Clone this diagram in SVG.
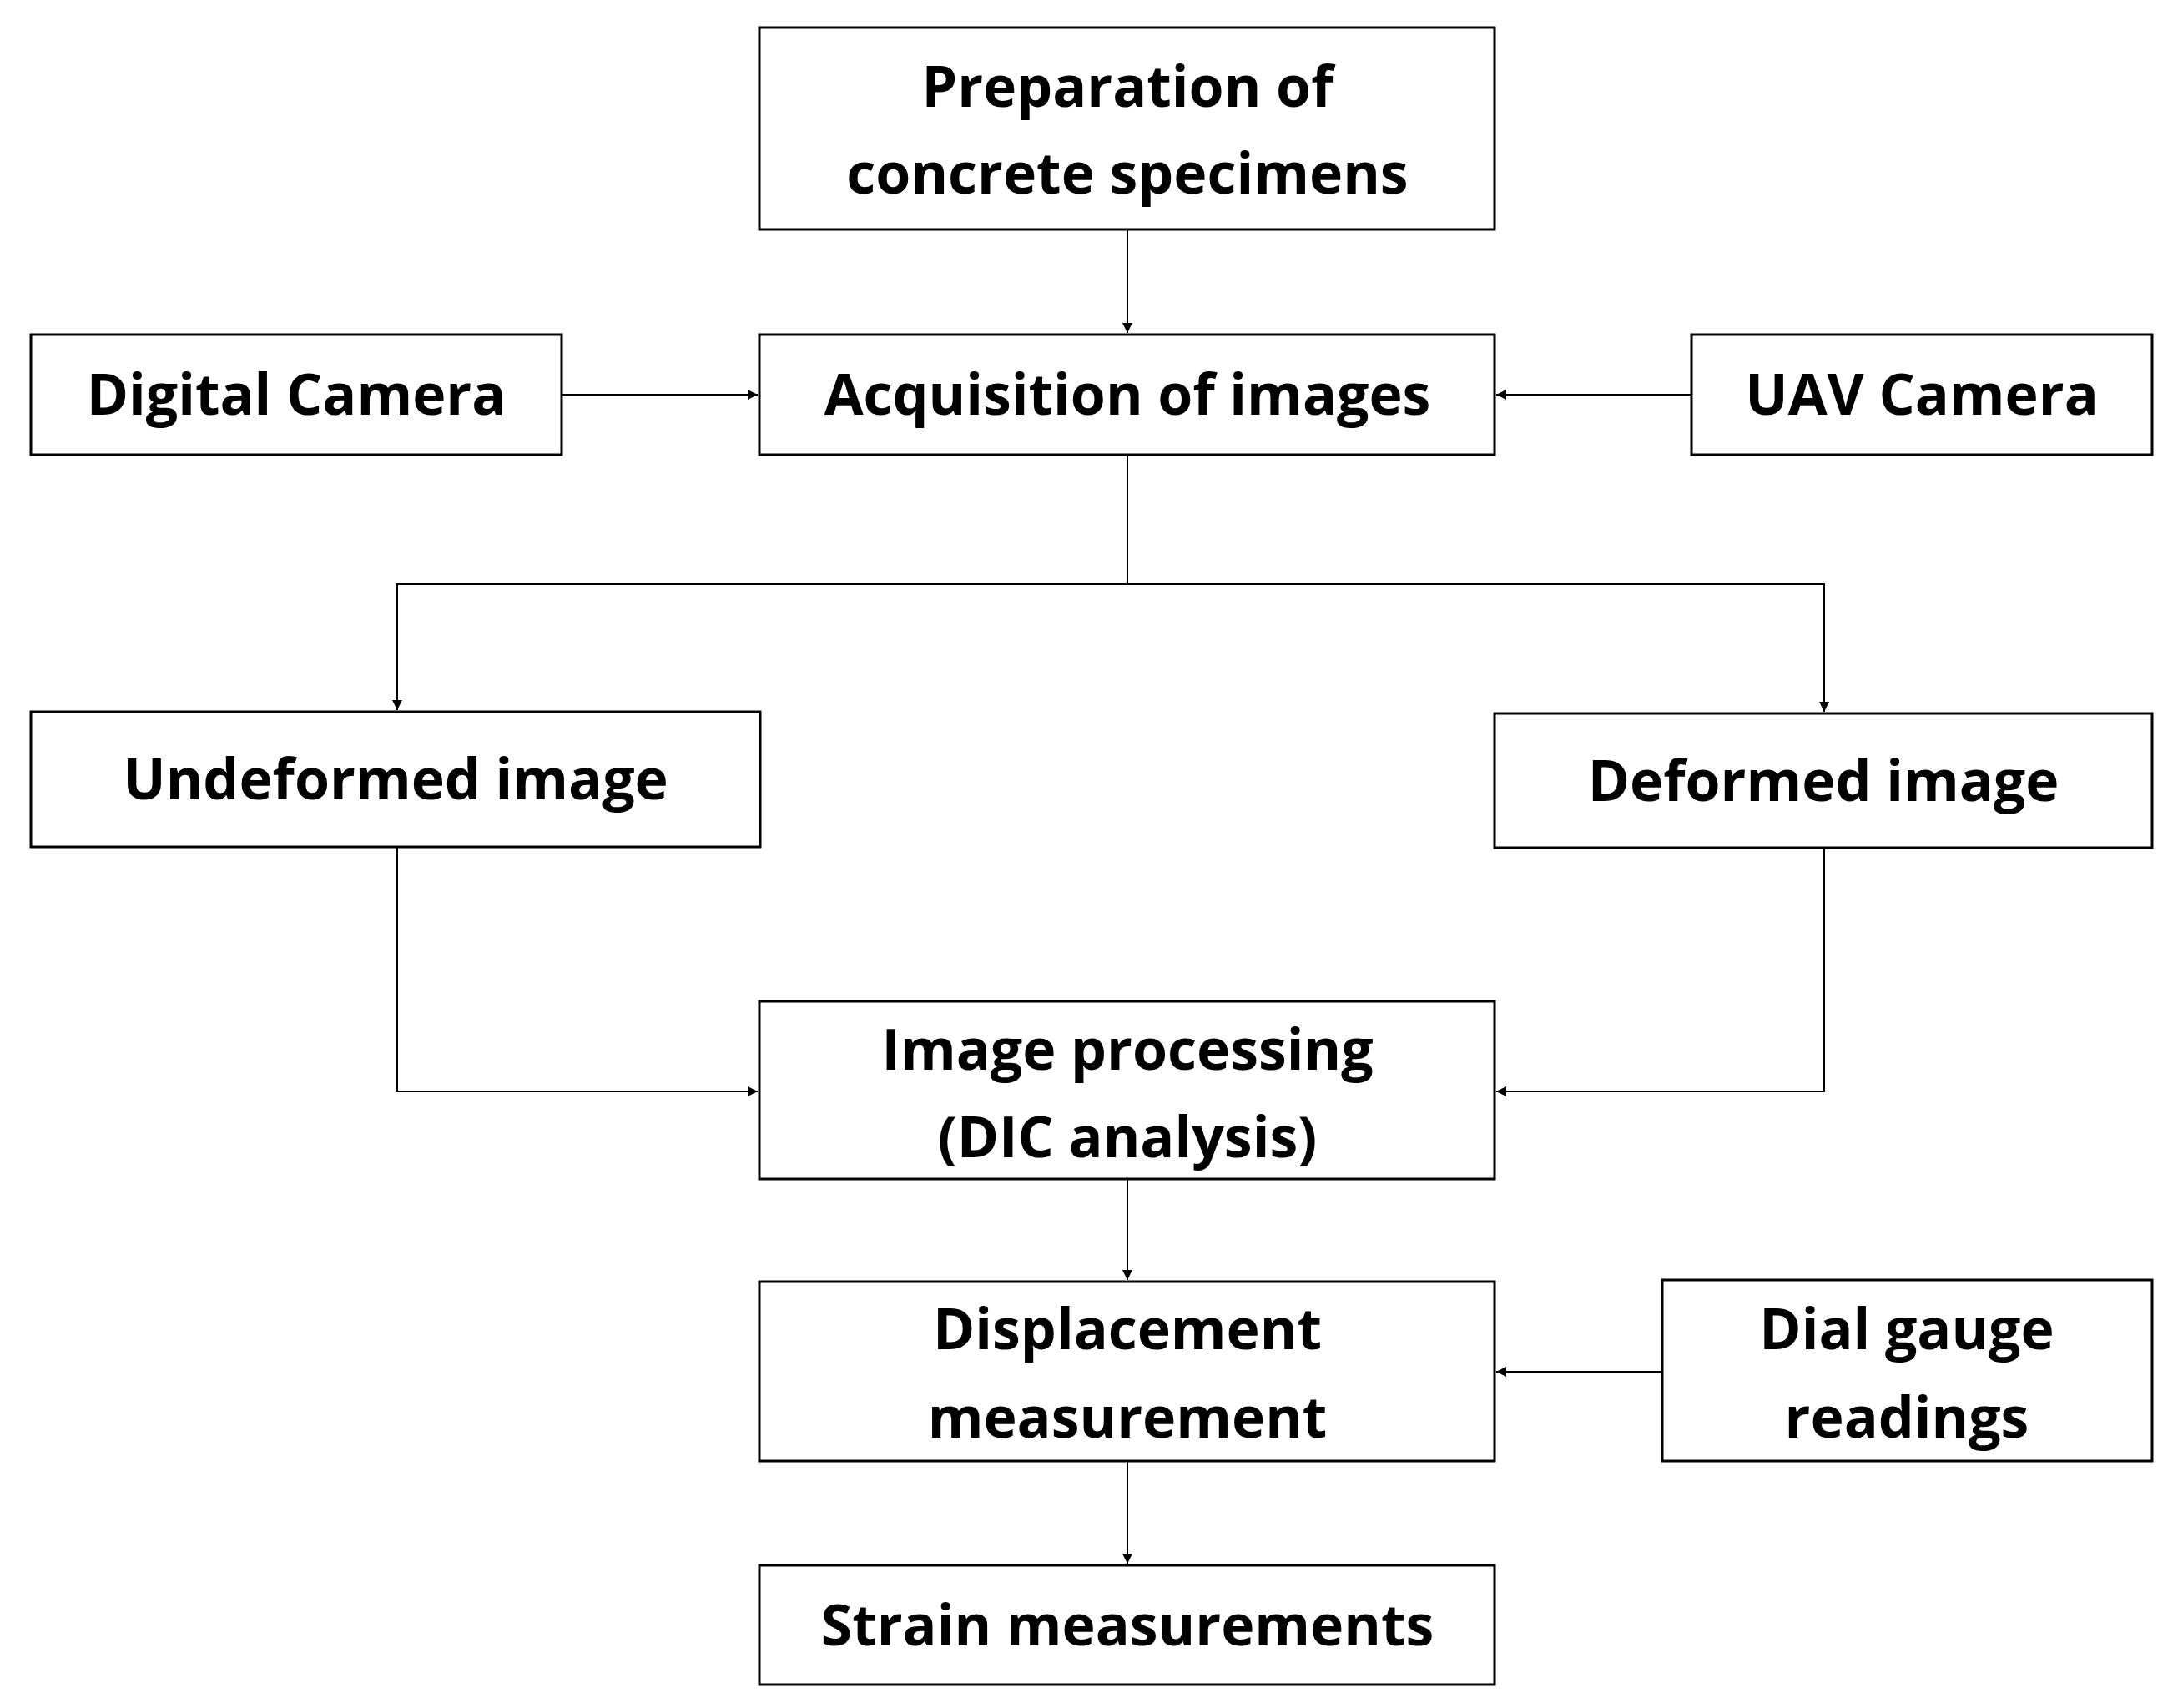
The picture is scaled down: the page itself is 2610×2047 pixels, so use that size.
<svg xmlns="http://www.w3.org/2000/svg" width="2610" height="2047" viewBox="0 0 2610 2047">
<style>
.b{fill:#fff;stroke:#000;stroke-width:3}
.t{font-family:"Open Sans","Liberation Sans",sans-serif;font-weight:bold;font-size:68px;text-anchor:middle;fill:#000}
.c{fill:none;stroke:#000;stroke-width:2}
</style>
<defs><marker id="a" viewBox="0 0 10 10" refX="10" refY="5" markerWidth="12" markerHeight="12" markerUnits="userSpaceOnUse" orient="auto"><path d="M0,0L10,5L0,10z" fill="#000"/></marker></defs>
<rect width="2610" height="2047" fill="#fff"/>
<g id="connectors">
<path class="c" d="M1351,275V399" marker-end="url(#a)"/>
<path class="c" d="M673,473H908" marker-end="url(#a)"/>
<path class="c" d="M2027,473H1793" marker-end="url(#a)"/>
<path class="c" d="M1351,545V700H476V851"/>
<path class="c" d="M1351,700H2186V853" marker-end="url(#a)"/>
<path class="c" d="M476,700V851" marker-end="url(#a)"/>
<path class="c" d="M476,1015V1308H908" marker-end="url(#a)"/>
<path class="c" d="M2186,1016V1308H1793" marker-end="url(#a)"/>
<path class="c" d="M1351,1413V1534" marker-end="url(#a)"/>
<path class="c" d="M1992,1644H1793" marker-end="url(#a)"/>
<path class="c" d="M1351,1751V1874" marker-end="url(#a)"/>
</g>
<g id="prep"><rect class="b" x="910" y="33" width="881" height="242"/><text class="t" x="1351" y="128">Preparation of</text><text class="t" x="1351" y="232">concrete specimens</text></g>
<g id="digital"><rect class="b" x="37" y="401" width="636" height="144"/><text class="t" x="355" y="497">Digital Camera</text></g>
<g id="acq"><rect class="b" x="910" y="401" width="881" height="144"/><text class="t" x="1351" y="497">Acquisition of images</text></g>
<g id="uav"><rect class="b" x="2027" y="401" width="552" height="144"/><text class="t" x="2303" y="497">UAV Camera</text></g>
<g id="undef"><rect class="b" x="37" y="853" width="874" height="162"/><text class="t" x="474" y="958">Undeformed image</text></g>
<g id="def"><rect class="b" x="1791" y="855" width="788" height="161"/><text class="t" x="2185" y="960">Deformed image</text></g>
<g id="proc"><rect class="b" x="910" y="1200" width="881" height="213"/><text class="t" x="1351" y="1282">Image processing</text><text class="t" x="1351" y="1387">(DIC analysis)</text></g>
<g id="disp"><rect class="b" x="910" y="1536" width="881" height="215"/><text class="t" x="1351" y="1617">Displacement</text><text class="t" x="1351" y="1723">measurement</text></g>
<g id="dial"><rect class="b" x="1992" y="1534" width="587" height="217"/><text class="t" x="2285" y="1617">Dial gauge</text><text class="t" x="2285" y="1723">readings</text></g>
<g id="strain"><rect class="b" x="910" y="1876" width="881" height="143"/><text class="t" x="1351" y="1972">Strain measurements</text></g>
</svg>
